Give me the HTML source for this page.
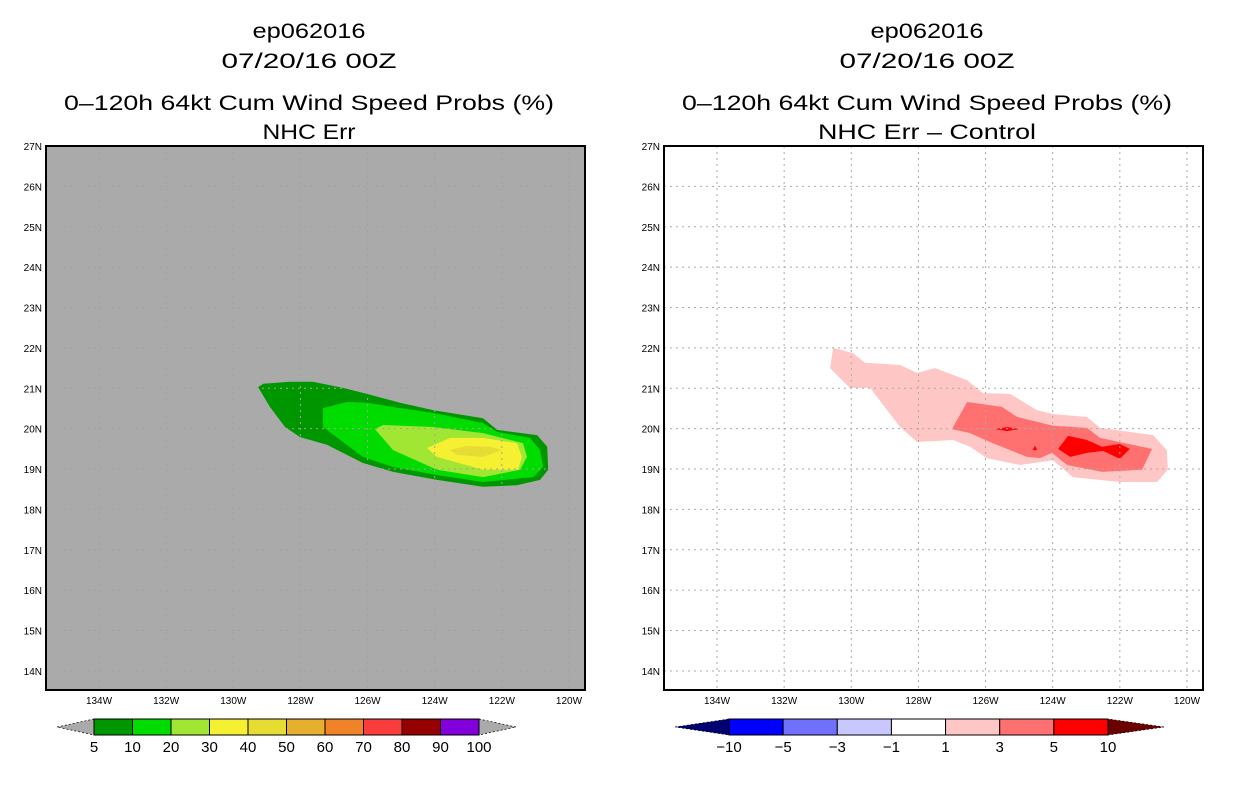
<!DOCTYPE html>
<html><head><meta charset="utf-8"><style>
body{margin:0;background:#fff;}
svg{display:block;font-family:"Liberation Sans",sans-serif;}
</style></head><body>
<svg id="c" width="1236" height="800"></svg>
<script>
const lonTicks=[-134,-132,-130,-128,-126,-124,-122,-120];
const latTicks=[14,15,16,17,18,19,20,21,22,23,24,25,26,27];
const probLevels=["5","10","20","30","40","50","60","70","80","90","100"];
const probColors=["#009600","#00dc00","#a0e632","#f5f032","#e6dc32","#e6af2d","#f08228","#fa3c3c","#960000","#8200dc"];
const diffLevels=["\u221210","\u22125","\u22123","\u22121","1","3","5","10"];
const diffColors=["#0000ff","#7070ff","#c8c8ff","#ffffff","#ffc6c6","#ff7070","#ff0000"];
const prob5=[[-129.26,21.03],[-129.11,21.11],[-128.31,21.16],[-127.63,21.16],[-126.73,21.01],[-126.02,20.86],[-125.03,20.64],[-124.05,20.46],[-122.56,20.26],[-122.14,19.97],[-120.95,19.84],[-120.65,19.55],[-120.62,18.98],[-120.86,18.73],[-121.55,18.60],[-122.56,18.56],[-123.93,18.73],[-125.24,18.93],[-126.14,19.15],[-127.21,19.60],[-128.01,19.79],[-128.46,20.04],[-128.91,20.54]];
const prob10=[[-127.33,20.51],[-126.61,20.66],[-126.02,20.64],[-125.03,20.51],[-124.05,20.39],[-122.56,20.14],[-122.14,19.92],[-121.16,19.77],[-120.86,19.47],[-120.77,19.05],[-121.07,18.80],[-122.56,18.68],[-123.93,18.85],[-125.24,19.05],[-126.14,19.30],[-127.33,20.04]];
const prob20=[[-125.78,19.99],[-125.54,20.09],[-124.05,20.04],[-122.56,19.89],[-121.37,19.64],[-121.25,19.30],[-121.46,18.98],[-122.56,18.80],[-123.93,18.98],[-125.24,19.47]];
const prob30=[[-124.23,19.52],[-123.54,19.77],[-122.56,19.77],[-121.55,19.64],[-121.40,19.30],[-121.52,18.98],[-122.56,18.98],[-123.93,19.30]];
const prob40=[[-123.54,19.47],[-123.04,19.57],[-122.35,19.55],[-122.00,19.47],[-122.56,19.30],[-123.34,19.35]];
const diff1=[[-130.54,22.00],[-129.95,21.87],[-129.59,21.63],[-128.55,21.58],[-128.04,21.38],[-127.51,21.50],[-126.55,21.20],[-126.08,20.88],[-125.27,20.86],[-124.47,20.46],[-123.99,20.36],[-122.98,20.29],[-122.59,20.02],[-121.01,19.84],[-120.60,19.47],[-120.57,18.98],[-120.89,18.68],[-122.00,18.68],[-123.40,18.80],[-123.99,19.22],[-124.97,19.10],[-125.96,19.27],[-126.46,19.55],[-126.97,19.72],[-128.04,19.67],[-128.55,20.04],[-129.44,21.01],[-130.04,21.01],[-130.63,21.50]];
const diff3=[[-127.00,19.99],[-126.55,20.66],[-125.51,20.54],[-125.06,20.29],[-123.99,20.07],[-122.98,20.02],[-122.59,19.77],[-121.04,19.50],[-121.34,18.98],[-122.53,18.93],[-123.57,19.10],[-124.02,19.40],[-124.38,19.27],[-124.77,19.30],[-125.78,19.64],[-126.46,19.89]];
const diff5a=[[-123.84,19.50],[-123.54,19.82],[-122.98,19.72],[-122.53,19.55],[-122.00,19.62],[-121.70,19.50],[-122.00,19.25],[-122.50,19.45],[-122.98,19.40],[-123.48,19.30]];
const diff5b=[[-125.72,19.99],[-125.36,20.04],[-125.00,19.99],[-125.36,19.94]];
const diff5c=[[-124.60,19.47],[-124.53,19.58],[-124.46,19.47]];

const NS="http://www.w3.org/2000/svg";
const svg=document.getElementById('c');
function mk(tag,attrs,parent){const e=document.createElementNS(NS,tag);for(const k in attrs)e.setAttribute(k,attrs[k]);(parent||svg).appendChild(e);return e;}
const Y0=146,Y1=690;
function xs(x0){return lon=>x0+53+(lon+134)*33.57;}
function ys(lat){return Y0+(27-lat)*40.38;}
function txt(x,y,s,size,anchor,name,len){const t=mk('text',{x:x,y:y,'font-size':size,'text-anchor':anchor||'middle',fill:'#000'});if(len){t.setAttribute('textLength',len);t.setAttribute('lengthAdjust','spacingAndGlyphs');}t.textContent=s;return t;}

function panel(x0,bg,sub,sublen,polys,gridCol,pname){
  const X=xs(x0);
  const g=mk('g',{});
  
  
  const cx=x0+263;
  txt(cx,38,'ep062016',21,'middle','storm-id',113);
  txt(cx,68,'07/20/16 00Z',21,'middle','date-title',175);
  txt(cx,110,'0\u2013120h 64kt Cum Wind Speed Probs (%)',21,'middle','main-title',490);
  txt(cx,139,sub,21,'middle','subtitle',sublen);
  const bgR=mk('rect',{x:x0,y:Y0,width:539,height:544,fill:bg},g);
  
  
  for(const p of polys){
    const pl=mk('polygon',{points:p.pts.map(q=>X(q[0]).toFixed(1)+','+ys(q[1]).toFixed(1)).join(' '),fill:p.c},g);
    
    
  }
  for(const lon of lonTicks){
    const l=mk('line',{x1:X(lon),x2:X(lon),y1:Y0,y2:Y1,stroke:gridCol,'stroke-width':1,'stroke-dasharray':'2,4'},g);
    
    
    txt(X(lon),704,(-lon)+'W',10,'middle','x-tick-label');
  }
  for(const lat of latTicks){
    const l=mk('line',{x1:x0,x2:x0+539,y1:ys(lat),y2:ys(lat),stroke:gridCol,'stroke-width':1,'stroke-dasharray':'2,4'},g);
    
    
    txt(x0-4,ys(lat)+4,lat+'N',10,'end','y-tick-label');
  }
  const fr=mk('rect',{x:x0,y:Y0,width:539,height:544,fill:'none',stroke:'#000','stroke-width':2},g);
  
  
}
panel(46,'#aaaaaa','NHC Err',93,[
 {pts:prob5,c:probColors[0],n:'contour-5'},{pts:prob10,c:probColors[1],n:'contour-10'},
 {pts:prob20,c:probColors[2],n:'contour-20'},{pts:prob30,c:probColors[3],n:'contour-30'},
 {pts:prob40,c:probColors[4],n:'contour-40'}],'#a2a2a2','left-map-panel');
panel(664,'#ffffff','NHC Err \u2013 Control',218,[
 {pts:diff1,c:diffColors[4],n:'contour-1'},{pts:diff3,c:diffColors[5],n:'contour-3'},
 {pts:diff5a,c:diffColors[6],n:'contour-5'},{pts:diff5b,c:diffColors[6],n:'contour-5-small'},
 {pts:diff5c,c:diffColors[6],n:'contour-5-dot'}],'#aaaaaa','right-map-panel');

function colorbar(x0,x1,tl,tr,colors,labels,lc,rc,name){
  const g=mk('g',{});
  
  
  const w=(x1-x0)/colors.length, y0=719,y1=735,ym=727;
  const a=mk('polygon',{points:`${tl},${ym} ${x0},${y0} ${x0},${y1}`,fill:lc,stroke:'#000','stroke-width':0.7,'stroke-dasharray':'2,2'},g);
  
  
  const b=mk('polygon',{points:`${tr},${ym} ${x1},${y0} ${x1},${y1}`,fill:rc,stroke:'#000','stroke-width':0.7,'stroke-dasharray':'2,2'},g);
  
  
  colors.forEach((c,i)=>{
    const r=mk('rect',{x:x0+i*w,y:y0,width:w,height:y1-y0,fill:c,stroke:'#000','stroke-width':1},g);
    
    
  });
  labels.forEach((s,i)=>txt(x0+i*w,752,s,15,'middle','colorbar-label'));
}
colorbar(94,479,57,516,probColors,probLevels,'#aaaaaa','#aaaaaa','prob-colorbar');
colorbar(729,1108,675,1164,diffColors,diffLevels,'#000070','#6a0000','diff-colorbar');
</script>
</body></html>
